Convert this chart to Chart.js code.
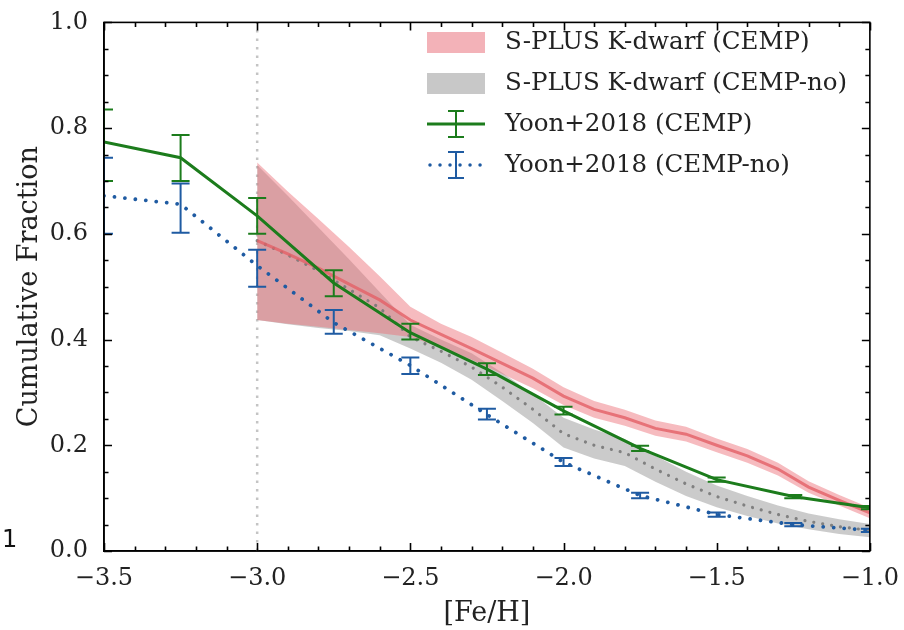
<!DOCTYPE html>
<html>
<head>
<meta charset="utf-8">
<script src="https://cdn.jsdelivr.net/npm/chart.js@4/dist/chart.umd.min.js"></script>
<style>
  html, body { margin: 0; padding: 0; background: #fff; }
  #c { display: block; }
</style>
</head>
<body>
<canvas id="c" width="904" height="630"></canvas>
<script>
// ---------- DATA ----------
const bandX = [-3.0, -2.9, -2.8, -2.7, -2.6, -2.5, -2.4, -2.3, -2.2, -2.1, -2.0, -1.9, -1.8, -1.7, -1.6, -1.5, -1.4, -1.3, -1.2, -1.1, -1.0];
// S-PLUS K-dwarf (CEMP)
const redUpper  = [0.735, 0.680, 0.628, 0.575, 0.520, 0.462, 0.430, 0.405, 0.375, 0.345, 0.310, 0.284, 0.267, 0.247, 0.235, 0.213, 0.193, 0.167, 0.132, 0.106, 0.082];
const redCenter = [0.587, 0.562, 0.535, 0.505, 0.475, 0.437, 0.410, 0.383, 0.355, 0.327, 0.293, 0.268, 0.252, 0.232, 0.221, 0.200, 0.180, 0.155, 0.121, 0.096, 0.072];
const redLower  = [0.437, 0.430, 0.424, 0.418, 0.412, 0.405, 0.385, 0.362, 0.335, 0.308, 0.276, 0.252, 0.237, 0.218, 0.207, 0.187, 0.167, 0.143, 0.110, 0.086, 0.062];
// S-PLUS K-dwarf (CEMP-no)
const grayUpper  = [0.730, 0.672, 0.612, 0.552, 0.490, 0.428, 0.400, 0.374, 0.337, 0.297, 0.252, 0.230, 0.212, 0.180, 0.150, 0.124, 0.104, 0.086, 0.071, 0.060, 0.051];
const grayCenter = [0.587, 0.560, 0.530, 0.495, 0.460, 0.405, 0.378, 0.348, 0.310, 0.268, 0.222, 0.200, 0.186, 0.155, 0.127, 0.103, 0.085, 0.069, 0.056, 0.046, 0.039];
const grayLower  = [0.437, 0.429, 0.422, 0.416, 0.408, 0.383, 0.356, 0.324, 0.284, 0.242, 0.196, 0.175, 0.161, 0.131, 0.104, 0.083, 0.066, 0.052, 0.041, 0.032, 0.026];

const yoonX = [-3.5, -3.25, -3.0, -2.75, -2.5, -2.25, -2.0, -1.75, -1.5, -1.25, -1.0];
// Yoon+2018 (CEMP)
const cempY  = [0.774, 0.744, 0.634, 0.507, 0.413, 0.344, 0.265, 0.194, 0.135, 0.103, 0.082];
const cempLo = [0.700, 0.700, 0.600, 0.482, 0.400, 0.333, 0.258, 0.189, 0.131, 0.100, 0.079];
const cempHi = [0.835, 0.787, 0.668, 0.531, 0.430, 0.355, 0.273, 0.199, 0.139, 0.106, 0.085];
// Yoon+2018 (CEMP-no)
const noY  = [0.672, 0.656, 0.540, 0.432, 0.351, 0.258, 0.168, 0.105, 0.069, 0.050, 0.039];
const noLo = [0.600, 0.602, 0.500, 0.411, 0.335, 0.249, 0.161, 0.100, 0.065, 0.047, 0.036];
const noHi = [0.744, 0.695, 0.570, 0.456, 0.366, 0.269, 0.176, 0.110, 0.073, 0.053, 0.042];

const cutX = -3.0; // vertical reference line
const legendLabels = ['S-PLUS K-dwarf (CEMP)', 'S-PLUS K-dwarf (CEMP-no)', 'Yoon+2018 (CEMP)', 'Yoon+2018 (CEMP-no)'];
const xTitle = '[Fe/H]';
const yTitle = 'Cumulative Fraction';

// ---------- STYLE ----------
const SERIF = '"DejaVu Serif", "Liberation Serif", serif';
const GREEN = '#1c7c1c';
const BLUE = '#1f5ba2';
const RED_FILL = 'rgba(236,112,122,0.48)';
const RED_LINE = 'rgba(228,96,102,0.8)';
const GRAY_FILL = 'rgba(140,140,140,0.45)';
const GRAY_LINE = 'rgba(120,120,120,0.9)';

const pts = (xs, ys) => xs.map((x, i) => ({x: x, y: ys[i]}));
const fmt = v => (v < 0 ? '\u2212' + Math.abs(v).toFixed(1) : v.toFixed(1));

const errorBarPlugin = {
  id: 'errorBars',
  afterDatasetsDraw(chart) {
    const {ctx, chartArea: a, scales: {x, y}} = chart;
    ctx.save();
    ctx.beginPath();
    ctx.rect(a.left, a.top, a.right - a.left, a.bottom - a.top);
    ctx.clip();
    const draw = (lo, hi, color) => {
      ctx.strokeStyle = color;
      ctx.lineWidth = 2;
      ctx.setLineDash([]);
      yoonX.forEach((xv, i) => {
        const px = x.getPixelForValue(xv);
        const p1 = y.getPixelForValue(lo[i]);
        const p2 = y.getPixelForValue(hi[i]);
        ctx.beginPath();
        ctx.moveTo(px, p1); ctx.lineTo(px, p2);
        ctx.moveTo(px - 9, p1); ctx.lineTo(px + 9, p1);
        ctx.moveTo(px - 9, p2); ctx.lineTo(px + 9, p2);
        ctx.stroke();
      });
    };
    draw(cempLo, cempHi, GREEN);
    draw(noLo, noHi, BLUE);
    ctx.restore();
  }
};

const frameTicksPlugin = {
  id: 'frameTicks',
  afterDraw(chart) {
    const {ctx, chartArea: a, scales: {x, y}} = chart;
    ctx.save();
    ctx.strokeStyle = '#000';
    ctx.lineWidth = 1.6;
    ctx.setLineDash([]);
    ctx.strokeRect(a.left, a.top, a.right - a.left, a.bottom - a.top);
    ctx.beginPath();
    for (let k = 0; k <= 25; k++) {
      const v = x.min + k * 0.1;
      const major = k % 5 === 0;
      const L = major ? 8 : 4.5;
      const px = Math.round(x.getPixelForValue(v)) + 0.5;
      ctx.moveTo(px, a.bottom); ctx.lineTo(px, a.bottom - L);
      ctx.moveTo(px, a.top); ctx.lineTo(px, a.top + L);
    }
    for (let k = 0; k <= 20; k++) {
      const v = k * 0.05;
      const major = k % 4 === 0;
      const L = major ? 8 : 4.5;
      const py = Math.round(y.getPixelForValue(v)) + 0.5;
      ctx.moveTo(a.left, py); ctx.lineTo(a.left + L, py);
      ctx.moveTo(a.right, py); ctx.lineTo(a.right - L, py);
    }
    ctx.stroke();

    // legend
    const lx = 427, lw = 58, tx = 505;
    const rows = [42, 83, 124, 165];
    ctx.textBaseline = 'middle';
    ctx.textAlign = 'left';
    ctx.fillStyle = 'rgb(243,178,184)';
    ctx.fillRect(lx, rows[0] - 10, lw, 21);
    ctx.fillStyle = 'rgb(200,200,200)';
    ctx.fillRect(lx, rows[1] - 10, lw, 21);
    const cx = lx + lw / 2;
    // green
    ctx.strokeStyle = GREEN; ctx.lineWidth = 3;
    ctx.beginPath(); ctx.moveTo(lx, rows[2]); ctx.lineTo(lx + lw, rows[2]); ctx.stroke();
    ctx.lineWidth = 2;
    ctx.beginPath();
    ctx.moveTo(cx, rows[2] - 13); ctx.lineTo(cx, rows[2] + 13);
    ctx.moveTo(cx - 8, rows[2] - 13); ctx.lineTo(cx + 8, rows[2] - 13);
    ctx.moveTo(cx - 8, rows[2] + 13); ctx.lineTo(cx + 8, rows[2] + 13);
    ctx.stroke();
    // blue
    ctx.strokeStyle = BLUE; ctx.lineWidth = 3.5; ctx.lineCap = 'round';
    ctx.setLineDash([0.01, 10]);
    ctx.beginPath(); ctx.moveTo(lx + 3, rows[3]); ctx.lineTo(lx + lw, rows[3]); ctx.stroke();
    ctx.setLineDash([]); ctx.lineCap = 'butt'; ctx.lineWidth = 2;
    ctx.beginPath();
    ctx.moveTo(cx, rows[3] - 13); ctx.lineTo(cx, rows[3] + 13);
    ctx.moveTo(cx - 8, rows[3] - 13); ctx.lineTo(cx + 8, rows[3] - 13);
    ctx.moveTo(cx - 8, rows[3] + 13); ctx.lineTo(cx + 8, rows[3] + 13);
    ctx.stroke();
    ctx.font = '24.5px ' + SERIF;
    ctx.fillStyle = '#222';
    legendLabels.forEach((t, i) => ctx.fillText(t, tx, rows[i] + 1));

    // stray fragment from neighbouring panel
    ctx.font = '24px "DejaVu Sans", sans-serif';
    ctx.fillStyle = '#111';
    ctx.fillText('1', 2, 541);
    ctx.restore();
  }
};

new Chart(document.getElementById('c'), {
  type: 'line',
  data: {
    datasets: [
      { label: 'redUpper', data: pts(bandX, redUpper), borderWidth: 0, pointRadius: 0, fill: {target: 1}, backgroundColor: RED_FILL, order: 20 },
      { label: 'redLower', data: pts(bandX, redLower), borderWidth: 0, pointRadius: 0, fill: false, order: 21 },
      { label: 'grayUpper', data: pts(bandX, grayUpper), borderWidth: 0, pointRadius: 0, fill: {target: 3}, backgroundColor: GRAY_FILL, order: 22 },
      { label: 'grayLower', data: pts(bandX, grayLower), borderWidth: 0, pointRadius: 0, fill: false, order: 23 },
      { label: 'redCenter', data: pts(bandX, redCenter), borderColor: RED_LINE, borderWidth: 3, pointRadius: 0, fill: false, order: 10 },
      { label: 'grayCenter', data: pts(bandX, grayCenter), borderColor: GRAY_LINE, borderWidth: 3.2, borderDash: [0.01, 9], borderCapStyle: 'round', pointRadius: 0, fill: false, order: 11 },
      { label: 'cut', data: [{x: cutX, y: 0}, {x: cutX, y: 1}], borderColor: 'rgba(190,190,190,0.9)', borderWidth: 2.5, borderDash: [2.5, 6], pointRadius: 0, fill: false, order: 30 },
      { label: 'Yoon CEMP', data: pts(yoonX, cempY), borderColor: GREEN, borderWidth: 3, pointRadius: 0, fill: false, order: 2 },
      { label: 'Yoon CEMP-no', data: pts(yoonX, noY), borderColor: BLUE, borderWidth: 3.8, borderDash: [0.01, 10.5], borderCapStyle: 'round', pointRadius: 0, fill: false, order: 3 }
    ]
  },
  options: {
    responsive: false,
    animation: false,
    devicePixelRatio: 1,
    layout: { padding: { top: 16, right: 32, left: 0, bottom: 0 } },
    plugins: { legend: { display: false }, tooltip: { enabled: false } },
    elements: { line: { tension: 0 } },
    scales: {
      x: {
        type: 'linear', min: -3.5, max: -1.0,
        grid: { display: false },
        border: { display: true, color: '#000', width: 1.6 },
        ticks: { stepSize: 0.5, callback: v => fmt(v), font: { family: SERIF, size: 24 }, color: '#222', padding: 5, maxRotation: 0 },
        title: { display: true, text: xTitle, font: { family: SERIF, size: 27 }, color: '#222', padding: { top: 0, bottom: 0 } },
        afterFit: s => { s.height = 79; }
      },
      y: {
        type: 'linear', min: 0, max: 1,
        grid: { display: false },
        border: { display: true, color: '#000', width: 1.6 },
        ticks: { stepSize: 0.2, callback: v => fmt(v), font: { family: SERIF, size: 24 }, color: '#222', padding: 8 },
        title: { display: true, text: yTitle, font: { family: SERIF, size: 27 }, color: '#222', padding: { top: 14, bottom: 0 } },
        afterFit: s => { s.width = 104; }
      }
    }
  },
  plugins: [errorBarPlugin, frameTicksPlugin]
});
</script>
</body>
</html>
